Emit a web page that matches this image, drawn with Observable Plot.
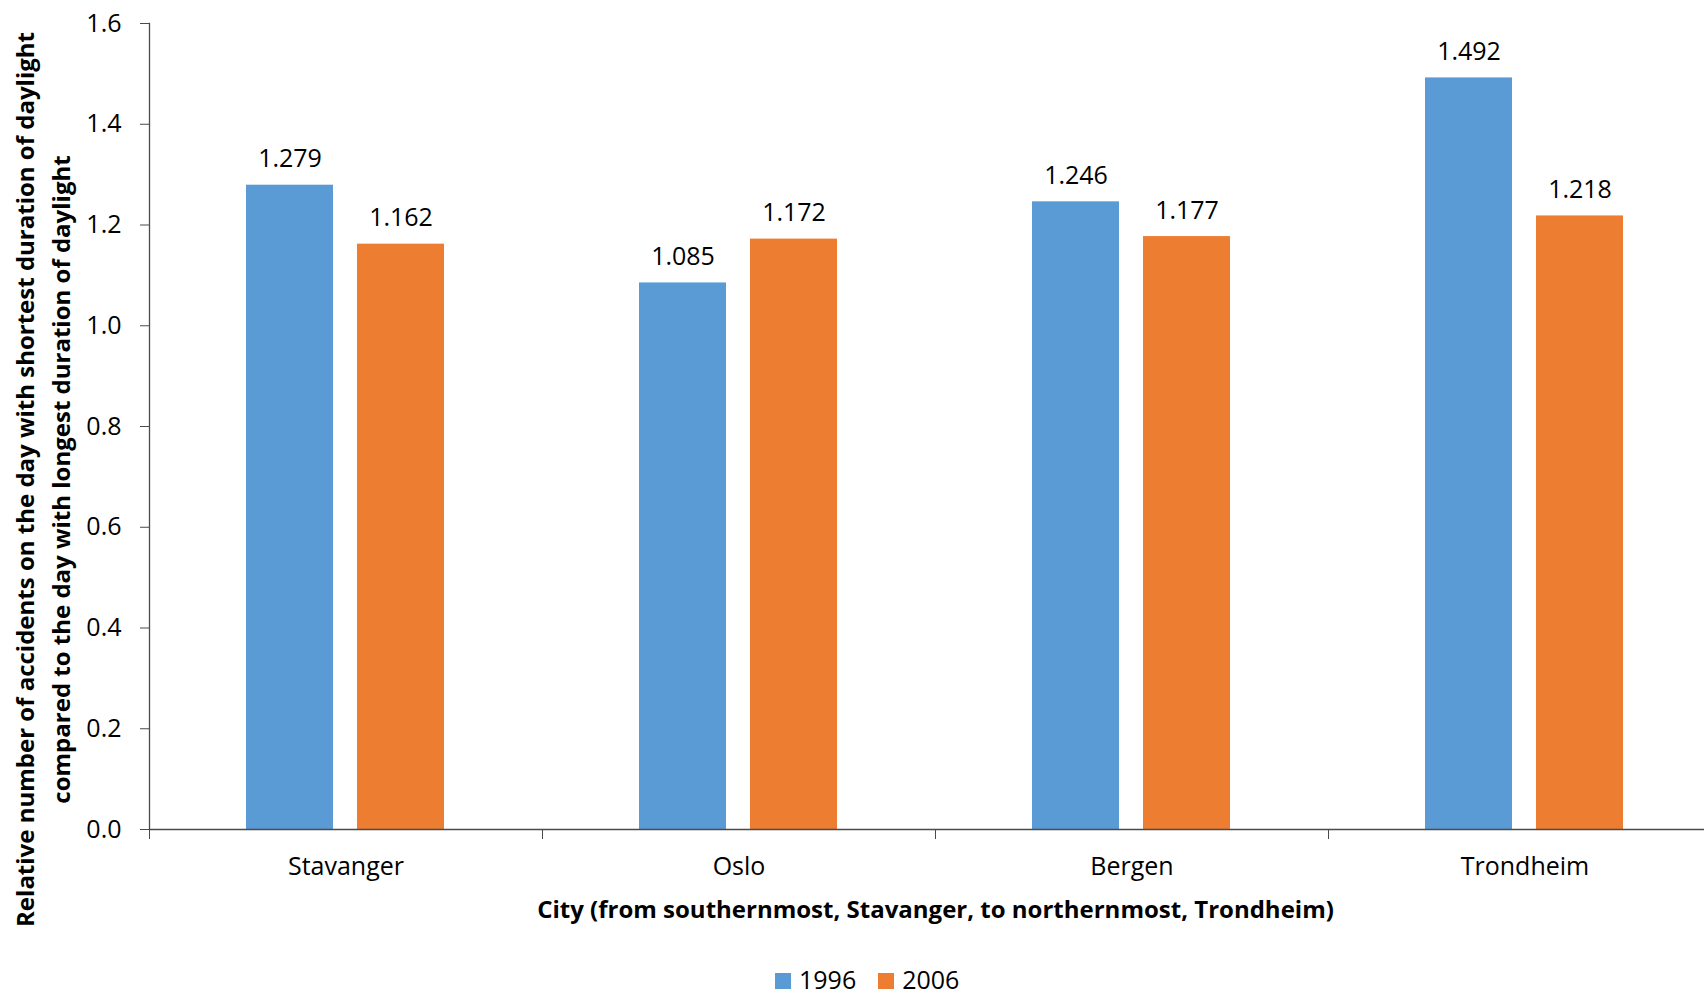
<!DOCTYPE html>
<html>
<head>
<meta charset="utf-8">
<script src="https://cdn.jsdelivr.net/npm/d3@7"></script>
<script src="https://cdn.jsdelivr.net/npm/@observablehq/plot@0.6"></script>
<style>
  html, body { margin: 0; padding: 0; background: #fff; overflow: hidden; }
  #chart svg g[aria-label="fx-axis label"] text { font-weight: bold; font-size: 24px; }
  .legend {
    margin-top: 12px;
    height: 25px;
    line-height: 25px;
    padding-left: 775px;
    font-family: "Open Sans", sans-serif;
    font-size: 25px;
    color: #000;
    white-space: nowrap;
  }
  .legend .item { display: inline-block; margin-right: 22px; }
  .legend .swatch { display: inline-block; width: 16px; height: 16px; margin-right: 8px; }
</style>
</head>
<body>
<div id="chart"></div>
<div class="legend" id="legend"></div>
<script>
// Cities ordered from south to north
const cities = ["Stavanger", "Oslo", "Bergen", "Trondheim"];
const years = ["1996", "2006"];
const values1996 = [1.279, 1.085, 1.246, 1.492];
const values2006 = [1.162, 1.172, 1.177, 1.218];
const yTicks = [0, 0.2, 0.4, 0.6, 0.8, 1.0, 1.2, 1.4, 1.6];
const seriesColors = ["#5B9BD5", "#ED7D31"];
const xTitle = "City (from southernmost, Stavanger, to northernmost, Trondheim)";
const yTitleLines = [
  "Relative number of accidents on the day with shortest duration of daylight",
  "compared to the day with longest duration of daylight"
];

// Long table: one row per city and year
const seriesValues = [values1996, values2006];
const rows = cities.flatMap((city, i) =>
  years.map((year, j) => ({city, year, value: seriesValues[j][i]}))
);

const W = 1704, H = 955;
const mL = 149, mR = -17, mT = 23, mB = 126;
const bandWidth = (W - mL - mR) / cities.length;
const axisColor = "#4a4a4a";
const textColor = "#000";

const chart = Plot.plot({
  width: W,
  height: H,
  marginLeft: mL,
  marginRight: mR,
  marginTop: mT,
  marginBottom: mB,
  style: {
    fontFamily: '"Open Sans", sans-serif',
    fontSize: "25px",
    color: textColor,
    background: "#fff",
    overflow: "hidden"
  },
  fx: {domain: cities, padding: 0},
  x: {domain: years, paddingInner: 0.214, paddingOuter: 0.862, axis: null},
  y: {domain: [0, 1.6], axis: null},
  color: {domain: years, range: seriesColors},
  marks: [
    Plot.barY(rows, {fx: "city", x: "year", y: "value", fill: "year"}),
    Plot.text(rows, {
      fx: "city", x: "year", y: "value",
      text: d => d.value.toFixed(3),
      dy: -18, lineAnchor: "bottom", fill: textColor, fontSize: 25
    }),
    Plot.ruleY([0], {stroke: axisColor, strokeWidth: 1.3}),
    Plot.frame({anchor: "left", facetAnchor: "left", stroke: axisColor, strokeWidth: 1.3}),
    Plot.axisY({
      ticks: yTicks, tickFormat: d3.format(".1f"),
      tickSize: 9, tickPadding: 19, stroke: axisColor, fill: textColor,
      label: null, fontSize: 25
    }),
    // boundary ticks between the city groups
    Plot.axisFx({anchor: "bottom", tickSize: 10, dx: -bandWidth / 2, stroke: axisColor, fill: "none", label: null}),
    // city names and the axis title
    Plot.axisFx({
      anchor: "bottom", tickSize: 0, tickPadding: 28, fill: textColor, fontSize: 25,
      label: xTitle, labelAnchor: "center", labelOffset: 88, labelArrow: "none"
    }),
    Plot.text([yTitleLines.join("\n")], {
      frameAnchor: "left", facetAnchor: "left",
      rotate: -90, dx: -109, dy: 53,
      textAnchor: "middle", lineAnchor: "middle", lineHeight: 1.5,
      fontWeight: "bold", fontSize: 24, fill: textColor
    })
  ]
});
document.getElementById("chart").appendChild(chart);

// Legend below the chart
const legend = d3.select("#legend");
years.forEach((year, i) => {
  const item = legend.append("span").attr("class", "item");
  item.append("span").attr("class", "swatch").style("background", seriesColors[i]);
  item.append("span").text(year);
});
</script>
</body>
</html>
